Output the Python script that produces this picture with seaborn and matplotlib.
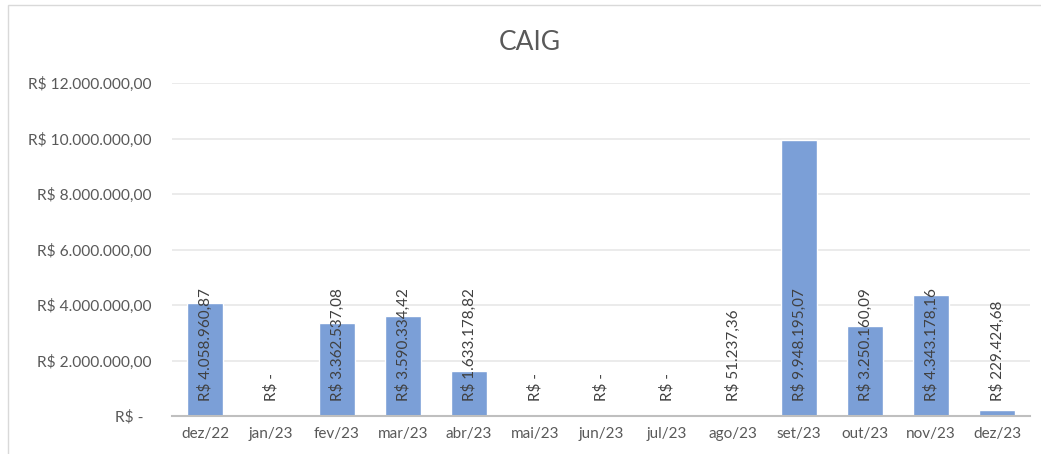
"""
CAIG: valores mensais (dez/22 a dez/23) em gráfico de barras.
"""

import numpy as np
import pandas as pd
import matplotlib
matplotlib.use("Agg")
import matplotlib.pyplot as plt
import seaborn as sns
from matplotlib.patches import Rectangle

# dados
meses = ["dez/22", "jan/23", "fev/23", "mar/23", "abr/23", "mai/23", "jun/23",
         "jul/23", "ago/23", "set/23", "out/23", "nov/23", "dez/23"]
valores = [4058960.87, 0, 3362537.08, 3590334.42, 1633178.82, 0, 0,
           0, 51237.36, 9948195.07, 3250160.09, 4343178.16, 229424.68]
yticks = [0, 2e6, 4e6, 6e6, 8e6, 10e6, 12e6]

sns.set_style("white")
plt.rcParams["font.family"] = ["Lato", "DejaVu Sans"]

COR_BARRA = "#7b9fd7"
COR_TEXTO = "#595959"


def brl(v: float) -> str:
    """Formato contábil brasileiro."""
    if v == 0:
        return "R$ -"
    s = f"{v:,.2f}".replace(",", "X").replace(".", ",").replace("X", ".")
    return f"R$ {s}"


df = pd.DataFrame({"mes": meses, "valor": valores})

fig = plt.figure(figsize=(10.41, 4.54), dpi=100)
ax = fig.add_axes([172 / 1041, 1 - 416 / 454, (1030 - 172) / 1041, (416 - 83) / 454])

sns.barplot(data=df, x="mes", y="valor", color=COR_BARRA, width=0.56,
            saturation=1, ax=ax, zorder=2)

ax.set_ylim(0, 12e6)
ax.set_xlim(-0.5, len(meses) - 0.5)
ax.set_yticks(yticks)
ax.set_yticklabels([brl(t) + ("  " if t == 0 else "") for t in yticks],
                   fontsize=11.2, color=COR_TEXTO)
ax.set_xticks(range(len(meses)))
ax.set_xticklabels(meses, fontsize=11, color=COR_TEXTO)
ax.set_xticks(np.arange(-0.5, len(meses), 1), minor=True)
ax.tick_params(axis="x", which="major", length=0, pad=8)
ax.tick_params(axis="x", which="minor", length=5, color="#bfbfbf", width=1.2)
ax.tick_params(axis="y", length=0, pad=15)
ax.set_xlabel("")
ax.set_ylabel("")

ax.grid(axis="y", color="#e8e8e8", linewidth=1.2, zorder=0)
ax.set_axisbelow(True)
for lado in ["left", "right", "top"]:
    ax.spines[lado].set_visible(False)
ax.spines["bottom"].set_color("#bfbfbf")
ax.spines["bottom"].set_linewidth(1.5)

# rótulos de dados (rotacionados, na base)
for i, v in enumerate(valores):
    ax.annotate(brl(v), xy=(i, 0), xytext=(0, 15), textcoords="offset pixels",
                rotation=90, ha="center", va="bottom", fontsize=11,
                color="#404040", zorder=3)

fig.text(530 / 1041, 1 - 42 / 454, "CAIG", fontsize=19, color=COR_TEXTO,
         ha="center", va="center")

# borda da área do gráfico
fig.patches.append(Rectangle((8 / 1041, -0.05), 1.2, 1 - 5 / 454 + 0.05,
                             transform=fig.transFigure, fill=False,
                             edgecolor="#d9d9d9", linewidth=1))

fig.savefig("out.png", dpi=100)
